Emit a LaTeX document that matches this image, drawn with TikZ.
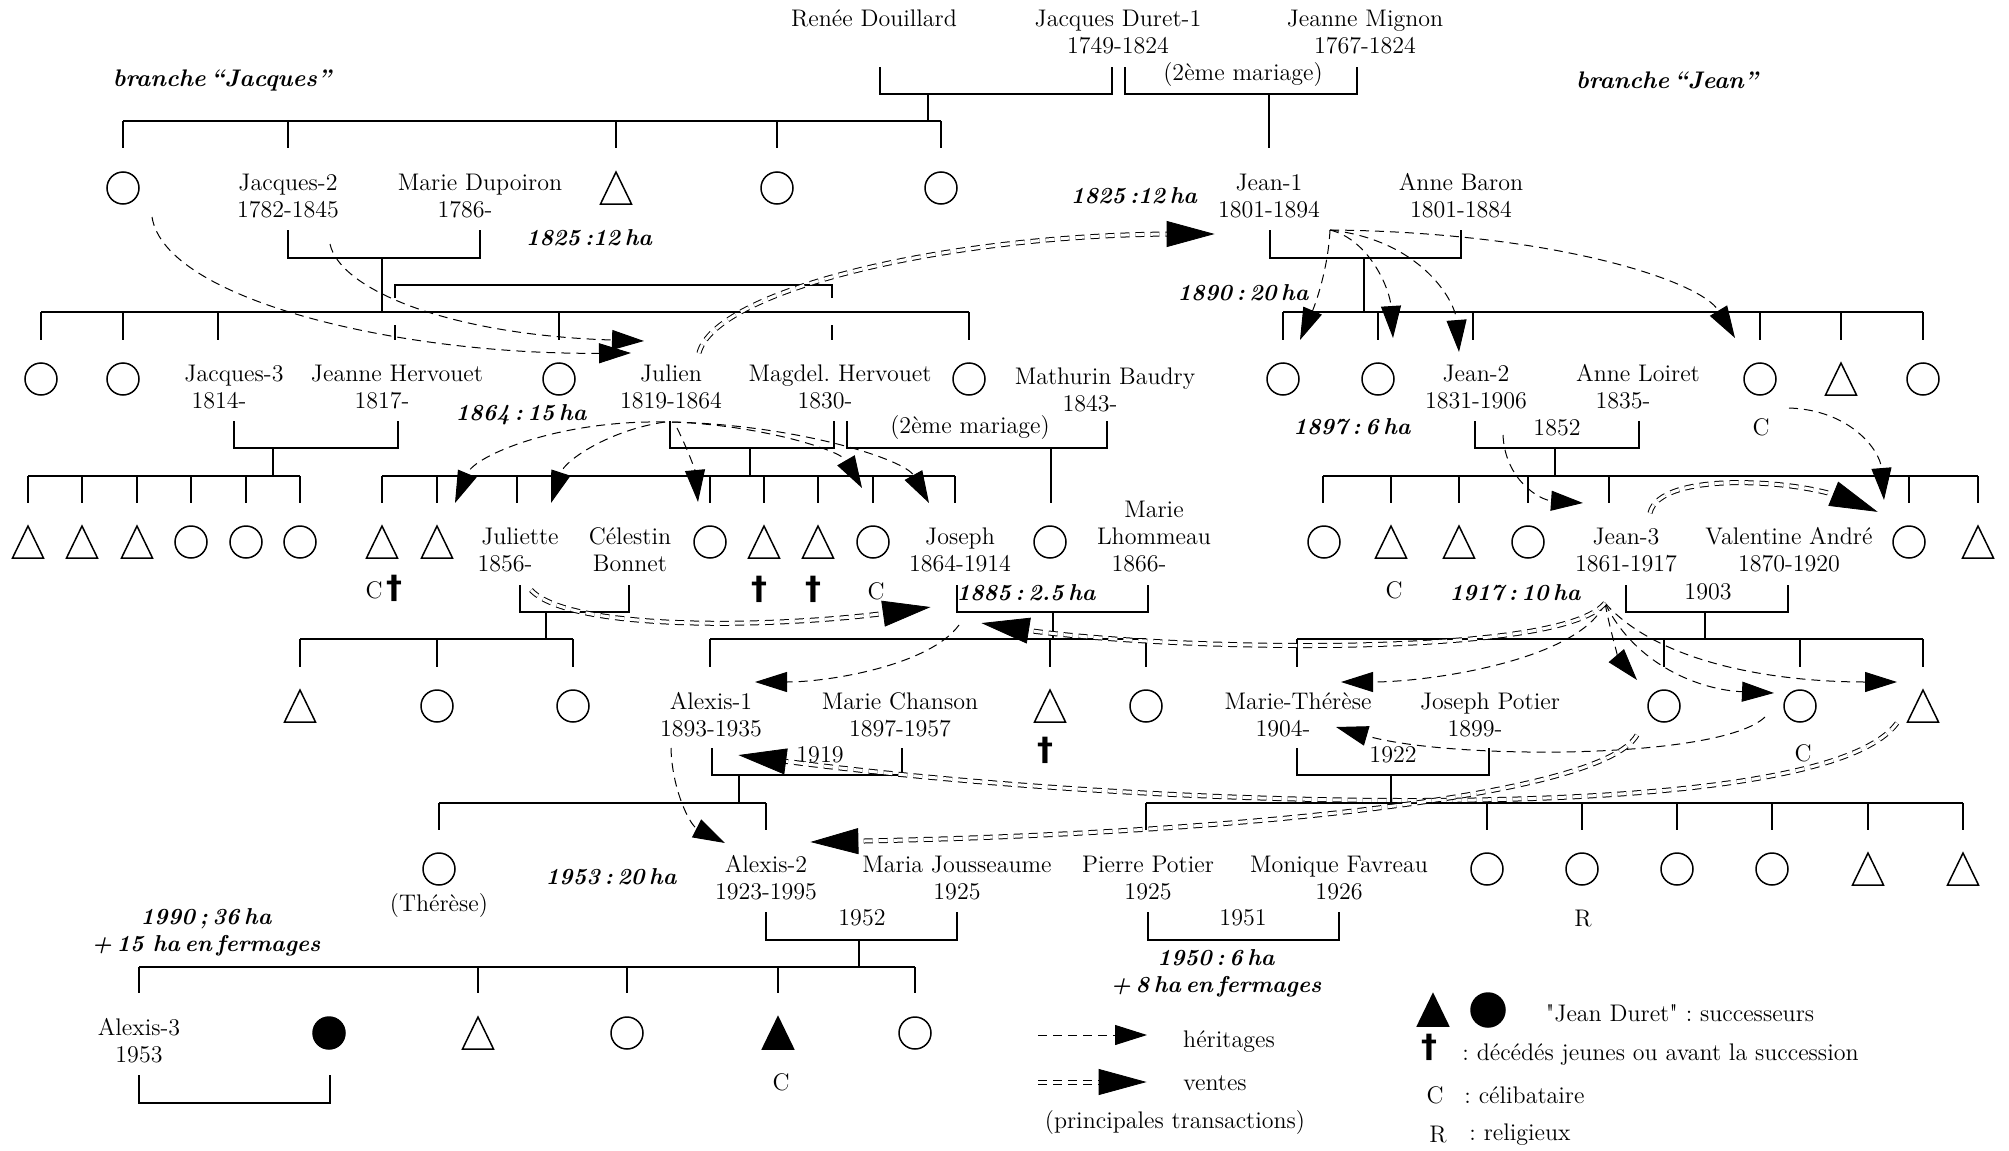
\documentclass[tikz,border=0pt]{standalone}
\usepackage{fontspec}
\newfontfamily\dvfont{DejaVu Sans}
\usetikzlibrary{arrows.meta,decorations.markings}
\frenchspacing
\newcommand\yr[1]{#1\hphantom{\rule{15pt}{1pt}}}
\newcommand\dg{{\dvfont\bfseries\fontsize{16}{16}\selectfont †}}
\newcommand\vente[1]{\draw[vdbl] #1; \path[vtip] #1;}
\newcommand\tightsp{\spaceskip 0.2em\relax}
\tikzset{
 tl/.style={line width=1pt},
 circ/.style={circle, draw, line width=0.75pt, minimum size=16pt, inner sep=0pt},
 fcirc/.style={circ, fill=black},
 txt/.style={font=\fontsize{12}{13.5}\selectfont, align=center, inner sep=0pt},
 lab/.style={font=\fontsize{11.5}{13.5}\selectfont\bfseries\itshape\tightsp, align=center, inner sep=0pt},
 brlab/.style={font=\fontsize{12}{13.5}\selectfont\bfseries\itshape\tightsp, inner sep=0pt},
 her/.style={line width=0.5pt, dash pattern=on 4.5pt off 3pt, -{Triangle[length=16pt,width=10pt]}},
 vdbl/.style={line width=0.5pt, dash pattern=on 4.5pt off 3pt, double, double distance=1.5pt, shorten >=18pt},
 vtip/.style={decorate, decoration={markings, mark=at position -0.2pt with {\arrow{Triangle[length=24pt,width=13pt]}}}},
 tri/.pic={\draw[line width=0.75pt, line join=miter] (-15.5,16)--(0,-16)--(15.5,16)--cycle;},
 ftri/.pic={\filldraw[line width=0.75pt, line join=miter] (-15.5,16)--(0,-16)--(15.5,16)--cycle;},
}
\begin{document}
\begin{tikzpicture}[x=0.5pt,y=-0.5pt]
\fill[white] (0,0) rectangle (2009,1151);
\useasboundingbox (0,0) rectangle (2009,1151);

% ---------- tree lines ----------
\draw[tl] (880,67)--(880,94)--(1112,94)--(1112,67);
\draw[tl] (928,94)--(928,121);
\draw[tl] (1125,67)--(1125,94)--(1357,94)--(1357,67);
\draw[tl] (1269,94)--(1269,148);
\draw[tl] (123,121)--(941,121);
\foreach \x in {123,288,616,777,941} \draw[tl] (\x,121)--(\x,148);
% gen 1 -> 2
\draw[tl] (288,230)--(288,258)--(480,258)--(480,230);
\draw[tl] (382,258)--(382,312);
\draw[tl] (395,298)--(395,285)--(832,285)--(832,298);
\draw[tl] (395,325)--(395,340);
\draw[tl] (832,325)--(832,340);
\draw[tl] (41,312)--(969,312);
\foreach \x in {41,123,218,559,969} \draw[tl] (\x,312)--(\x,340);
\draw[tl] (1270,230)--(1270,258)--(1461,258)--(1461,230);
\draw[tl] (1364,258)--(1364,312);
\draw[tl] (1283,312)--(1923,312);
\foreach \x in {1283,1378,1473,1760,1841,1923} \draw[tl] (\x,312)--(\x,340);
% gen 2 -> 3
\draw[tl] (234,421)--(234,448)--(398,448)--(398,421);
\draw[tl] (273,448)--(273,476);
\draw[tl] (28,476)--(300,476);
\foreach \x in {28,82,137,191,246,300} \draw[tl] (\x,476)--(\x,503);
\draw[tl] (670,421)--(670,448)--(834,448)--(834,421);
\draw[tl] (750,448)--(750,476);
\draw[tl] (847,421)--(847,448)--(1107,448)--(1107,421);
\draw[tl] (1051,448)--(1051,503);
\draw[tl] (382,476)--(955,476);
\foreach \x in {382,437,517,710,764,818,873,955} \draw[tl] (\x,476)--(\x,503);
\draw[tl] (1475,421)--(1475,448)--(1639,448)--(1639,421);
\draw[tl] (1555,448)--(1555,476);
\draw[tl] (1323,476)--(1978,476);
\foreach \x in {1323,1391,1459,1528,1609,1909,1978} \draw[tl] (\x,476)--(\x,503);
% gen 3 -> 4
\draw[tl] (520,585)--(520,612)--(629,612)--(629,585);
\draw[tl] (546,612)--(546,639);
\draw[tl] (300,639)--(573,639);
\foreach \x in {300,437,573} \draw[tl] (\x,639)--(\x,667);
\draw[tl] (957,585)--(957,612)--(1148,612)--(1148,585);
\draw[tl] (1053,612)--(1053,639);
\draw[tl] (710,639)--(1146,639);
\foreach \x in {710,1050,1146} \draw[tl] (\x,639)--(\x,667);
\draw[tl] (1626,585)--(1626,612)--(1788,612)--(1788,585);
\draw[tl] (1705,612)--(1705,639);
\draw[tl] (1297,639)--(1923,639);
\foreach \x in {1297,1664,1800,1923} \draw[tl] (\x,639)--(\x,667);
% gen 4 -> 5
\draw[tl] (712,748)--(712,775)--(902,775)--(902,748);
\draw[tl] (739,775)--(739,803);
\draw[tl] (439,803)--(766,803);
\foreach \x in {439,766} \draw[tl] (\x,803)--(\x,830);
\draw[tl] (1297,748)--(1297,775)--(1489,775)--(1489,748);
\draw[tl] (1391,775)--(1391,803);
\draw[tl] (1146,803)--(1963,803);
\foreach \x in {1146,1487,1582,1677,1772,1868,1963} \draw[tl] (\x,803)--(\x,830);
% gen 5 -> 6
\draw[tl] (766,912)--(766,940)--(957,940)--(957,912);
\draw[tl] (859,940)--(859,967);
\draw[tl] (1148,912)--(1148,940)--(1339,940)--(1339,912);
\draw[tl] (139,967)--(915,967);
\foreach \x in {139,478,627,778,915} \draw[tl] (\x,967)--(\x,993);
\draw[tl] (139,1075)--(139,1103)--(330,1103)--(330,1075);

% ---------- shapes ----------
\foreach \x [count=\i] in {123,777,941} \node[circ] (ga\i) at (\x,188) {};
\pic (gat1) at (616,188) {tri};
\foreach \x [count=\i] in {41,123,559,969,1283,1378,1760,1923} \node[circ] (gb\i) at (\x,379) {};
\pic (gbt1) at (1841,379) {tri};
\foreach \x [count=\i] in {28,82,137,382,437,764,818,1391,1459,1978} \pic (gct\i) at (\x,542) {tri};
\foreach \x [count=\i] in {191,246,300,710,873,1050,1324,1528,1909} \node[circ] (gc\i) at (\x,542) {};
\foreach \x [count=\i] in {300,1050,1923} \pic (gdt\i) at (\x,706) {tri};
\foreach \x [count=\i] in {437,573,1146,1664,1800} \node[circ] (gd\i) at (\x,706) {};
\foreach \x [count=\i] in {439,1487,1582,1677,1772} \node[circ] (ge\i) at (\x,869) {};
\foreach \x [count=\i] in {1868,1963} \pic (get\i) at (\x,869) {tri};
\node[fcirc] (gf1) at (329,1033) {};
\pic (gft1) at (478,1033) {tri};
\node[circ] (gf2) at (627,1033) {};
\pic (gft2) at (778,1033) {ftri};
\node[circ] (gf3) at (915,1033) {};

% ---------- texts ----------
\node[txt] (renee) at (874,18) {Renée Douillard};
\node[txt] (jd1) at (1118,32) {Jacques Duret-1\\1749-1824};
\node[txt] (mignon) at (1365,32) {Jeanne Mignon\\1767-1824};
\node[txt] (mar1) at (1243,75) {(2ème mariage)};
\node[brlab] (brj) at (222,80) {branche “Jacques”};
\node[brlab] (brjean) at (1667,80) {branche “Jean”};
\node[txt] (jacques2) at (288,196) {Jacques-2\\1782-1845};
\node[txt] (dupoiron) at (480,196) {Marie Dupoiron\\\yr{1786-}};
\node[txt] (jean1) at (1269,196) {Jean-1\\1801-1894};
\node[txt] (baron) at (1461,196) {Anne Baron\\1801-1884};
\node[lab] (l1825a) at (589,238) {1825 :12 ha};
\node[lab] (l1825b) at (1134,196) {1825 :12 ha};
\node[lab] (l1890) at (1243,293) {1890 : 20 ha};
% gen 2
\node[txt] (jacques3) at (234,387) {Jacques-3\\\yr{1814-}};
\node[txt] (jhervouet) at (397,387) {Jeanne Hervouet\\\yr{1817-}};
\node[txt] (julien) at (671,387) {Julien\\1819-1864};
\node[txt] (magdel) at (840,387) {Magdel.\ Hervouet\\\yr{1830-}};
\node[txt] (mathurin) at (1105,390) {Mathurin Baudry\\\yr{1843-}};
\node[txt] (mar2) at (970,428) {(2ème mariage)};
\node[txt] (jean2) at (1476,387) {Jean-2\\1831-1906};
\node[txt] (loiret) at (1638,387) {Anne Loiret\\\yr{1835-}};
\node[txt] (cb) at (1761,427) {C};
\node[txt] (y1852) at (1557,428) {1852};
\node[lab] (l1864) at (521,415) {1864 : 15 ha};
\node[lab] (l1897) at (1352,427) {1897 : 6 ha};
% gen 3
\node[txt] (cd1) at (384,588) {C\,\dg};
\node[txt] (juliette) at (520,550) {Juliette\\\yr{1856-}};
\node[txt] (celestin) at (630,550) {Célestin\\Bonnet};
\node[txt] (dg1) at (759,589) {\dg};
\node[txt] (dg2) at (813,589) {\dg};
\node[txt] (cc1) at (876,591) {C};
\node[txt] (joseph) at (960,550) {Joseph\\1864-1914};
\node[txt] (lhommeau) at (1154,537) {Marie\\Lhommeau\\\yr{1866-}};
\node[txt] (cc2) at (1394,590) {C};
\node[txt] (jean3) at (1626,550) {Jean-3\\1861-1917};
\node[txt] (valentine) at (1789,550) {Valentine André\\1870-1920};
\node[lab] (l1885) at (1026,593) {1885 : 2.5 ha};
\node[lab] (l1917) at (1515,593) {1917 : 10 ha};
\node[txt] (y1903) at (1708,592) {1903};
% gen 4
\node[txt] (alexis1) at (711,715) {Alexis-1\\1893-1935};
\node[txt] (chanson) at (900,715) {Marie Chanson\\1897-1957};
\node[txt] (dg3) at (1045,750) {\dg};
\node[txt] (y1919) at (820,755) {1919};
\node[txt] (mtherese) at (1298,715) {Marie-Thérèse\\\yr{1904-}};
\node[txt] (jpotier) at (1490,715) {Joseph Potier\\\yr{1899-}};
\node[txt] (y1922) at (1393,755) {1922};
\node[txt] (cd2) at (1803,753) {C};
% gen 5
\node[txt] (therese) at (439,906) {(Thérèse)};
\node[txt] (alexis2) at (766,878) {Alexis-2\\1923-1995};
\node[txt] (jousseaume) at (957,878) {Maria Jousseaume\\1925};
\node[txt] (ppotier) at (1148,878) {Pierre Potier\\1925};
\node[txt] (favreau) at (1339,878) {Monique Favreau\\1926};
\node[txt] (re) at (1583,919) {R};
\node[txt] (y1952) at (862,918) {1952};
\node[txt] (y1951) at (1243,918) {1951};
\node[lab] (l1950) at (1216,973) {1950 : 6 ha\\+ 8 ha en fermages};
\node[lab] (l1953) at (611,877) {1953 : 20 ha};
\node[lab] (l1990) at (206,932) {1990 ; 36 ha\\+ 15\ \ ha en fermages};
% gen 6
\node[txt] (alexis3) at (139,1041) {Alexis-3\\1953};
\node[txt] (cf) at (781,1082) {C};

% ---------- legend ----------
\coordinate (lh1) at (1038,1035); \coordinate (lh2) at (1147,1035);
\draw[her] (lh1)--(lh2);
\coordinate (lv1) at (1038,1082); \coordinate (lv2) at (1147,1082);
\vente{(lv1)--(lv2)}
\node[txt] (lher) at (1229,1042) {héritages};
\node[txt] (lven) at (1215,1083) {ventes};
\node[txt] (lpt) at (1175,1123) {(principales transactions)};
\pic (lgt) at (1433,1010) {ftri};
\node[fcirc, minimum size=17pt] (lgc) at (1488,1010) {};
\node[txt] (lsucc) at (1680,1013) {\textquotedbl Jean Duret\textquotedbl{} : successeurs};
\node[txt] (ldg) at (1429,1047) {\dg};
\node[txt, anchor=west] (ldec) at (1462,1055) {: décédés jeunes ou avant la succession};
\node[txt] (lc) at (1435,1095) {C};
\node[txt, anchor=west] (lcel) at (1464,1095) {: célibataire};
\node[txt] (lr) at (1438,1135) {R};
\node[txt, anchor=west] (lrel) at (1469,1135) {: religieux};

% ---------- heritages ----------
\coordinate (h1a) at (152,217); \coordinate (h1b) at (631,353);
\draw[her] (h1a) .. controls (165,300) and (400,355) .. (h1b);
\coordinate (h2a) at (330,244); \coordinate (h2b) at (644,341);
\draw[her] (h2a) .. controls (340,290) and (450,335) .. (h2b);
\coordinate (jul) at (665,422);
\coordinate (h3b) at (455,503);
\draw[her] (jul) .. controls (560,420) and (475,455) .. (h3b);
\coordinate (h4b) at (551,503);
\draw[her] (jul) .. controls (610,430) and (565,460) .. (h4b);
\coordinate (h5a) at (677,428); \coordinate (h5b) at (698,502);
\draw[her] (h5a) .. controls (688,450) and (695,470) .. (h5b);
\coordinate (jul2) at (672,422);
\coordinate (h6b) at (862,488);
\draw[her] (jul2) .. controls (760,425) and (840,450) .. (h6b);
\coordinate (h7b) at (929,503);
\draw[her] (jul2) .. controls (800,425) and (905,460) .. (h7b);
\coordinate (h8a) at (959,625); \coordinate (h8b) at (755,682);
\draw[her] (h8a) .. controls (930,665) and (830,682) .. (h8b);
\coordinate (h9a) at (671,748); \coordinate (h9b) at (725,843);
\draw[her] (h9a) .. controls (672,790) and (690,825) .. (h9b);
\coordinate (j1) at (1330,230);
\coordinate (h10b) at (1300,340);
\draw[her] (j1) .. controls (1328,270) and (1315,305) .. (h10b);
\coordinate (h11b) at (1393,338);
\draw[her] (j1) .. controls (1370,240) and (1390,290) .. (h11b);
\coordinate (h12b) at (1459,352);
\draw[her] (j1) .. controls (1420,240) and (1455,300) .. (h12b);
\coordinate (h13b) at (1735,338);
\draw[her] (j1) .. controls (1550,232) and (1700,280) .. (h13b);
\coordinate (h14a) at (1503,435); \coordinate (h14b) at (1583,503);
\draw[her] (h14a) .. controls (1505,480) and (1540,500) .. (h14b);
\coordinate (h15a) at (1789,408); \coordinate (h15b) at (1884,500);
\draw[her] (h15a) .. controls (1850,410) and (1880,450) .. (h15b);
\coordinate (j3) at (1605,603);
\coordinate (h16b) at (1341,682);
\draw[her] (j3) .. controls (1580,660) and (1430,682) .. (h16b);
\coordinate (h17b) at (1637,680);
\draw[her] (j3) .. controls (1612,640) and (1620,660) .. (h17b);
\coordinate (h18b) at (1774,693);
\draw[her] (j3) .. controls (1635,665) and (1700,690) .. (h18b);
\coordinate (h19b) at (1897,682);
\draw[her] (j3) .. controls (1660,665) and (1780,682) .. (h19b);
\coordinate (h20a) at (1765,717); \coordinate (h20b) at (1336,727);
\draw[her] (h20a) .. controls (1720,760) and (1450,760) .. (h20b);

% ---------- ventes ----------
\coordinate (v1a) at (699,353); \coordinate (v1b) at (1215,234);
\vente{(v1a) .. controls (715,290) and (950,234) .. (v1b)}
\coordinate (v2a) at (531,590); \coordinate (v2b) at (931,607);
\vente{(v2a) .. controls (570,632) and (780,628) .. (v2b)}
\coordinate (v3b) at (981,623);
\vente{(j3) .. controls (1560,660) and (1150,650) .. (v3b)}
\coordinate (v4a) at (1897,723); \coordinate (v4b) at (738,755);
\vente{(v4a) .. controls (1820,830) and (1150,810) .. (v4b)}
\coordinate (v5a) at (1637,735); \coordinate (v5b) at (810,842);
\vente{(v5a) .. controls (1600,800) and (1200,835) .. (v5b)}
\coordinate (v6a) at (1650,513); \coordinate (v6b) at (1878,512);
\vente{(v6a) .. controls (1660,470) and (1800,480) .. (v6b)}
\end{tikzpicture}
\end{document}
